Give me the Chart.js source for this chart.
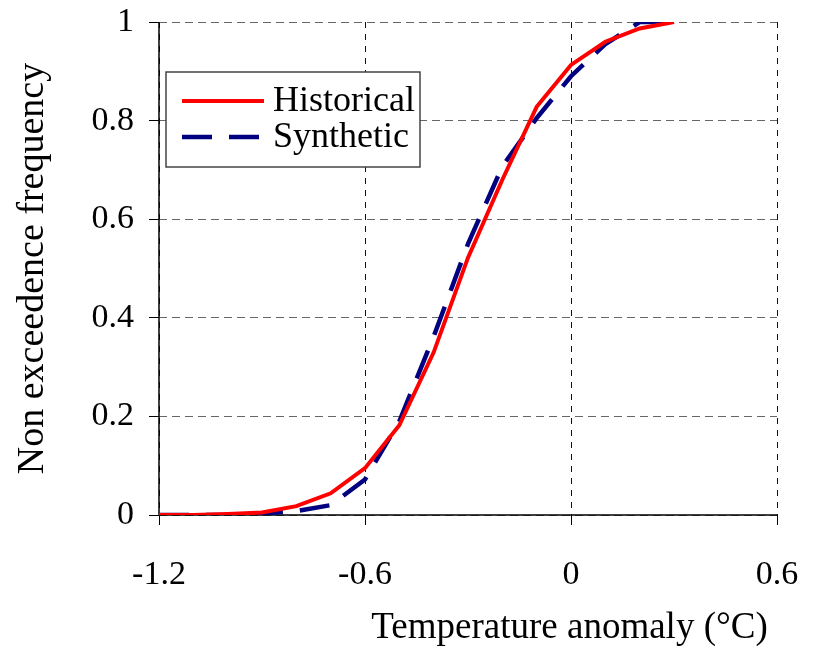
<!DOCTYPE html>
<html>
<head>
<meta charset="utf-8">
<script src="https://cdn.jsdelivr.net/npm/chart.js@4"></script>
<style>
  html, body { margin: 0; padding: 0; background: #fff; }
  #wrap { width: 814px; height: 650px; }
</style>
</head>
<body>
<div id="wrap"><canvas id="cdf"></canvas></div>
<script>
// Data
const tempAnomaly = [-1.2, -1.1, -1.0, -0.9, -0.8, -0.7, -0.6, -0.5, -0.4, -0.3, -0.2, -0.1, 0.0, 0.1, 0.2, 0.3];
const historical = [0, 0, 0.002, 0.005, 0.018, 0.044, 0.095, 0.182, 0.33, 0.522, 0.68, 0.828, 0.913, 0.96, 0.987, 1.0];
const synthetic = [0, 0, 0, 0.003, 0.008, 0.02, 0.072, 0.19, 0.362, 0.55, 0.707, 0.805, 0.89, 0.955, 1.0, 1.0];
const xTickLabels = ['-1.2', '-0.6', '0', '0.6'];
const yTickLabels = ['0', '0.2', '0.4', '0.6', '0.8', '1'];

const serif = '"Liberation Serif", "Times New Roman", serif';

function toPoints(ys) {
    return tempAnomaly.map((x, i) => ({ x: x, y: ys[i] }));
}

// Solid left and bottom axis lines (border.dash would dash them too)
const solidAxes = {
    id: 'solidAxes',
    beforeDatasetsDraw(chart) {
        const ctx = chart.ctx;
        const a = chart.chartArea;
        ctx.save();
        ctx.strokeStyle = '#000';
        ctx.lineWidth = 1.5;
        ctx.setLineDash([]);
        ctx.beginPath();
        ctx.moveTo(a.left, a.top);
        ctx.lineTo(a.left, a.bottom);
        ctx.lineTo(a.right, a.bottom);
        ctx.stroke();
        ctx.restore();
    }
};

// Legend drawn inside the plot area, like the original
const innerLegend = {
    id: 'innerLegend',
    afterDraw(chart) {
        const ctx = chart.ctx;
        const area = chart.chartArea;
        const left = area.left + 7;
        const top = area.top + 50;
        ctx.save();
        ctx.fillStyle = '#fff';
        ctx.fillRect(left, top, 254, 95);
        ctx.strokeStyle = '#444';
        ctx.lineWidth = 1.5;
        ctx.strokeRect(left, top, 254, 95);

        ctx.font = '36px ' + serif;
        ctx.textBaseline = 'middle';
        chart.data.datasets.forEach((ds, i) => {
            const y = top + 29 + i * 36;
            ctx.beginPath();
            ctx.strokeStyle = ds.borderColor;
            ctx.lineWidth = ds.borderWidth;
            ctx.setLineDash(ds.borderDash || []);
            ctx.moveTo(left + 16, y);
            ctx.lineTo(left + 98, y);
            ctx.stroke();
            ctx.setLineDash([]);
            ctx.fillStyle = '#000';
            ctx.fillText(ds.label, left + 107, y + 1);
        });
        ctx.restore();
    }
};

const ctx = document.getElementById('cdf').getContext('2d');
new Chart(ctx, {
    type: 'line',
    data: {
        datasets: [{
            label: 'Historical',
            data: toPoints(historical),
            borderColor: '#ff0000',
            borderWidth: 4,
            pointRadius: 0,
            tension: 0,
            fill: false
        }, {
            label: 'Synthetic',
            data: toPoints(synthetic),
            borderColor: '#000080',
            borderWidth: 4.5,
            borderDash: [30, 17],
            pointRadius: 0,
            tension: 0,
            fill: false
        }]
    },
    options: {
        responsive: true,
        maintainAspectRatio: false,
        animation: false,
        layout: {
            padding: { top: 22, right: 37, bottom: 0, left: 0 }
        },
        plugins: {
            legend: { display: false },
            tooltip: { enabled: false }
        },
        scales: {
            x: {
                type: 'linear',
                min: -1.2,
                max: 0.6,
                afterFit: (scale) => {
                    scale.height = 135;
                    scale.paddingLeft = 0;
                    scale.paddingRight = 0;
                },
                afterBuildTicks: (scale) => {
                    scale.ticks = xTickLabels.map(v => ({ value: parseFloat(v) }));
                },
                ticks: {
                    color: '#000',
                    font: { family: serif, size: 34 },
                    padding: 30,
                    maxRotation: 0,
                    callback: (value, index) => xTickLabels[index]
                },
                grid: {
                    color: '#111',
                    lineWidth: 1,
                    tickLength: 10,
                    tickColor: '#000',
                    tickWidth: 1,
                    tickBorderDash: []
                },
                border: { display: false, dash: [6, 6] },
                title: {
                    display: true,
                    text: 'Temperature anomaly (\u00B0C) ',
                    align: 'end',
                    color: '#000',
                    font: { family: serif, size: 37 },
                    padding: { top: 2, bottom: 0 }
                }
            },
            y: {
                type: 'linear',
                min: 0,
                max: 1,
                afterFit: (scale) => {
                    scale.width = 159;
                    scale.paddingTop = 0;
                    scale.paddingBottom = 0;
                },
                afterBuildTicks: (scale) => {
                    scale.ticks = yTickLabels.map(v => ({ value: parseFloat(v) }));
                },
                ticks: {
                    color: '#000',
                    font: { family: serif, size: 34 },
                    padding: 15,
                    callback: (value, index) => yTickLabels[index]
                },
                grid: {
                    color: '#666',
                    lineWidth: 1,
                    tickLength: 10,
                    tickColor: '#000',
                    tickWidth: 1,
                    tickBorderDash: []
                },
                border: { display: false, dash: [8, 5] },
                title: {
                    display: true,
                    text: 'Non exceedence frequency',
                    color: '#000',
                    font: { family: serif, size: 38 },
                    padding: { top: 10, bottom: 0 }
                }
            }
        }
    },
    plugins: [solidAxes, innerLegend]
});
</script>
</body>
</html>
